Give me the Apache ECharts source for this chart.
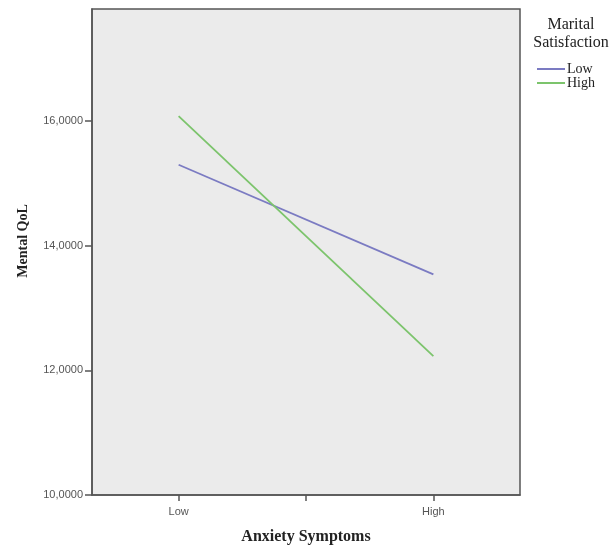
<!DOCTYPE html>
<html>
<head>
<meta charset="utf-8">
<script src="https://cdn.jsdelivr.net/npm/echarts@6/dist/echarts.min.js"></script>
<style>
  html, body { margin: 0; padding: 0; background: #fff; }
  #contain { width: 616px; height: 547px; }
</style>
</head>
<body>
<div id="contain"></div>
<script>
var xLabels = ['Low', 'High'];          // Anxiety Symptoms
var lowSat = [15.30, 13.54];            // Marital Satisfaction = Low
var highSat = [16.08, 12.23];           // Marital Satisfaction = High
var yTicks = [10, 12, 14, 16];

function pairs(vals) {
    var out = [];
    for (var i = 0; i < vals.length; i++) out.push([i, vals[i]]);
    return out;
}

var serif = 'Liberation Serif';
var sans = 'Liberation Sans';

var myChart = echarts.init(document.getElementById('contain'));
var option = {
    animation: false,
    title: {
        text: 'Marital\nSatisfaction',
        left: 566,
        top: 11,
        textAlign: 'center',
        textStyle: { fontFamily: serif, fontSize: 16, fontWeight: 'normal', color: '#222', lineHeight: 18 }
    },
    legend: {
        orient: 'vertical',
        left: 532,
        top: 57,
        icon: 'rect',
        itemWidth: 28,
        itemHeight: 2,
        itemGap: 0,
        data: ['Low', 'High'],
        textStyle: { fontFamily: serif, fontSize: 14, color: '#222', lineHeight: 14, padding: [0, 0, 0, -3] }
    },
    grid: {
        left: 92,
        right: 96,
        top: 9,
        bottom: 52,
        outerBoundsMode: 'none',
        show: true,
        backgroundColor: '#ebebeb',
        borderColor: '#555',
        borderWidth: 1.5
    },
    xAxis: {
        type: 'value',
        min: -0.34,
        max: 1.34,
        name: 'Anxiety Symptoms',
        nameLocation: 'middle',
        nameGap: 34,
        nameTextStyle: { fontFamily: serif, fontSize: 16, fontWeight: 'bold', color: '#222' },
        splitLine: { show: false },
        axisLine: { onZero: false, lineStyle: { color: '#555', width: 1.5 } },
        axisTick: { length: 6, lineStyle: { color: '#555', width: 1.5 }, customValues: [0, 0.5, 1] },
        axisLabel: {
            customValues: [0, 1],
            margin: 11,
            fontFamily: sans,
            fontSize: 11,
            color: '#555',
            formatter: function (v) { return xLabels[Math.round(v)]; }
        }
    },
    yAxis: {
        type: 'value',
        min: 10,
        max: 17.8,
        name: 'Mental QoL',
        nameLocation: 'middle',
        nameGap: 62,
        nameTextStyle: { fontFamily: serif, fontSize: 14, fontWeight: 'bold', color: '#222', padding: [0, 0, 0, 22] },
        splitLine: { show: false },
        axisLine: { show: true, onZero: false, lineStyle: { color: '#555', width: 1.5 } },
        axisTick: { show: true, length: 7, lineStyle: { color: '#555', width: 1.5 }, customValues: yTicks },
        axisLabel: {
            customValues: yTicks,
            margin: 9,
            fontFamily: sans,
            fontSize: 11,
            color: '#555',
            formatter: function (v) { return v.toFixed(4).replace('.', ','); }
        }
    },
    series: [
        {
            name: 'Low',
            type: 'line',
            data: pairs(lowSat),
            symbol: 'none',
            lineStyle: { color: '#7b7bc2', width: 1.8 },
            itemStyle: { color: '#7b7bc2' }
        },
        {
            name: 'High',
            type: 'line',
            data: pairs(highSat),
            symbol: 'none',
            lineStyle: { color: '#7cc46c', width: 1.8 },
            itemStyle: { color: '#7cc46c' }
        }
    ]
};
myChart.setOption(option);
</script>
</body>
</html>
